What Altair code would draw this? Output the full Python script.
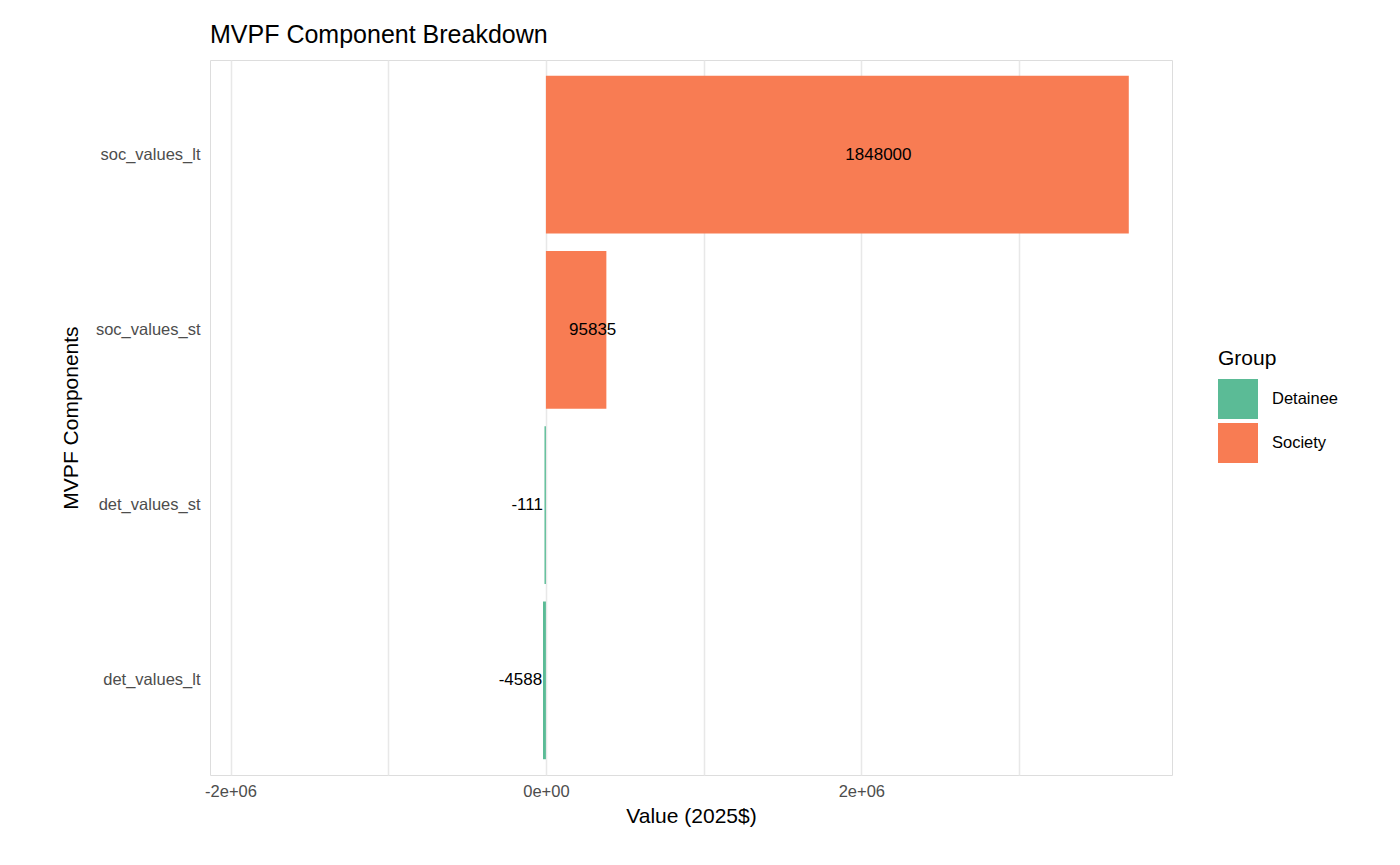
import altair as alt
import pandas as pd

components = ["soc_values_lt", "soc_values_st", "det_values_st", "det_values_lt"]
groups = ["Society", "Society", "Detainee", "Detainee"]
label_values = [1848000, 95835, -111, -4588]
label_text = ["1848000", "95835", "-111", "-4588"]
bar_totals = [3696000, 383340, -9000, -18352]

df = pd.DataFrame({
    "component": components,
    "group": groups,
    "label": label_values,
    "label_text": label_text,
    "bar": bar_totals,
})

y_enc = alt.Y("component:N", sort=components, title="MVPF Components",
              scale=alt.Scale(paddingInner=0.1, paddingOuter=0.09),
              axis=alt.Axis(domain=False, ticks=False, labelFontSize=16.5, labelColor="#4d4d4d",
                            labelPadding=10, titleFontSize=21, titleFontWeight="normal",
                            titlePadding=14, gridColor="#e5e5e5", gridWidth=2, bandPosition=0.5))
x_scale = alt.Scale(domain=[-2130000, 3970000], nice=False, zero=False)

bars = alt.Chart(df).mark_bar().encode(
    x=alt.X("bar:Q", scale=x_scale, title="Value (2025$)",
            axis=alt.Axis(values=[-2e6, -1e6, 0, 1e6, 2e6, 3e6],
                          labelExpr="datum.value == 0 ? '0e+00' : (datum.value == 2000000 ? '2e+06' : (datum.value == -2000000 ? '-2e+06' : ''))",
                          domain=False, ticks=False, labelFontSize=16.5, labelColor="#4d4d4d",
                          labelPadding=8, titleFontSize=21, titleFontWeight="normal",
                          titlePadding=6, gridColor="#e8e8e8", gridWidth=1.5)),
    x2=alt.datum(0),
    y=y_enc,
    color=alt.Color("group:N", title="Group",
                    scale=alt.Scale(domain=["Detainee", "Society"], range=["#5BBB96", "#F87C53"]),
                    legend=alt.Legend(orient="none", legendX=1008, legendY=288,
                                      titleFontSize=21, titleFontWeight="normal", labelFontSize=16.5,
                                      titlePadding=10, labelOffset=14,
                                      symbolType="square", symbolSize=1600, symbolStrokeWidth=0,
                                      symbolOpacity=1, rowPadding=4)),
)

pos = alt.Chart(df).transform_filter("datum.label >= 0").mark_text(
    align="left", dx=8, fontSize=17, color="black").encode(
    x=alt.X("label:Q", scale=x_scale), y=alt.Y("component:N", sort=components), text="label_text:N")
neg = alt.Chart(df).transform_filter("datum.label < 0").mark_text(
    align="right", dx=-3, fontSize=17, color="black").encode(
    x=alt.X("label:Q", scale=x_scale), y=alt.Y("component:N", sort=components), text="label_text:N")

chart = alt.layer(bars, pos, neg).properties(
    width=962, height=715,
    autosize=alt.AutoSizeParams(type="none"),
    padding={"left": 202, "top": 52, "right": 220, "bottom": 80},
    title=alt.TitleParams("MVPF Component Breakdown", anchor="start", frame="group",
                          fontSize=25, fontWeight="normal", offset=12),
).configure_view(stroke=None, strokeWidth=0).configure(font="Liberation Sans")

chart.save("out.html", embed_options={"renderer": "svg", "actions": False})
